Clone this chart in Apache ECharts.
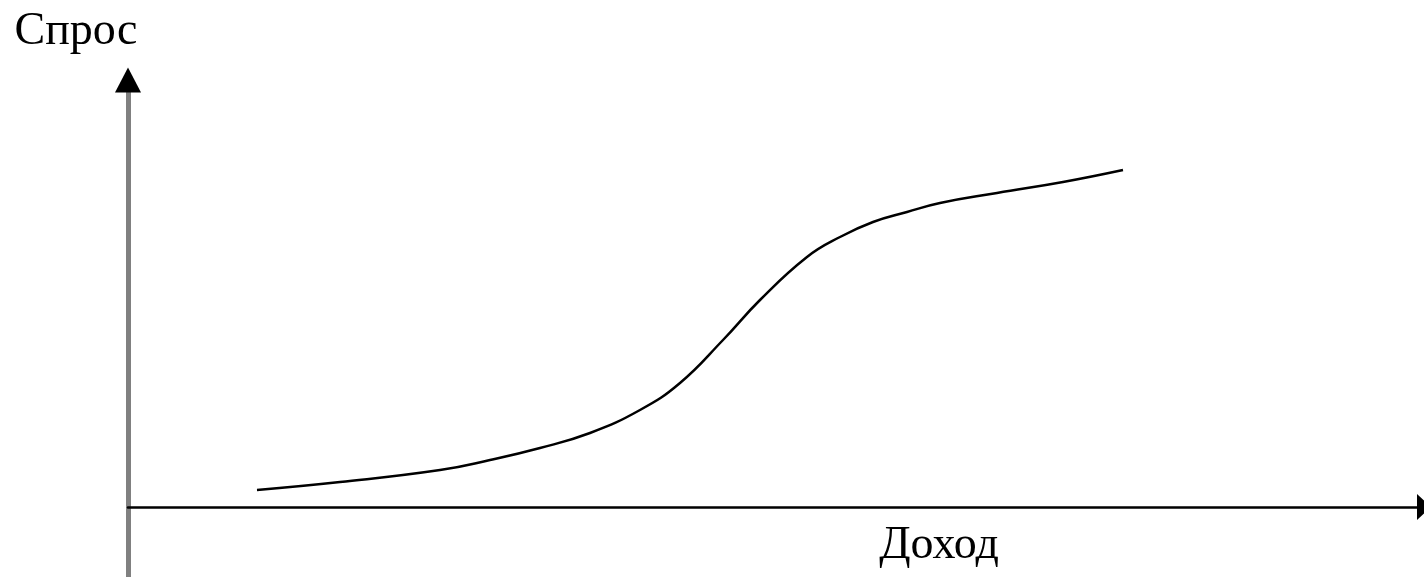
<!DOCTYPE html>
<html>
<head>
<meta charset="utf-8">
<script src="https://cdn.jsdelivr.net/npm/echarts@6/dist/echarts.min.js"></script>
<style>
html,body{margin:0;padding:0;background:#fff;}
#chart{width:1424px;height:577px;}
</style>
</head>
<body>
<div id="chart"></div>
<script>
// Income (x) and demand (y), arbitrary units
const income = [12.9, 21.2, 31.2, 36.2, 41.2, 46.2, 51.2, 55.2, 59.5, 63.2, 67.9, 71.2, 74.5, 77.9, 81.2, 86.9, 93.5, 99.5];
const demand = [3.4, 5.0, 7.4, 9.4, 11.8, 14.8, 19.4, 24.8, 33.4, 41.4, 50.0, 54.0, 57.0, 59.0, 60.8, 62.8, 65.0, 67.4];
const xName = 'Доход';
const yName = 'Спрос';

const points = income.map((x, i) => [x, demand[i]]);
const font = 'Liberation Serif';

const chart = echarts.init(document.getElementById('chart'));
chart.setOption({
  backgroundColor: '#fff',
  animation: false,
  grid: { left: 128, right: 0, top: 80, bottom: 0, containLabel: false, outerBoundsMode: 'none' },
  xAxis: {
    type: 'value', min: 0, max: 129.6,
    name: xName, nameLocation: 'middle', nameGap: -54,
    nameTextStyle: { fontFamily: font, fontSize: 46, color: '#000', padding: [0, 0, 0, 326] },
    axisLine: { show: true, onZero: true, symbol: ['none', 'triangle'], symbolSize: [26, 14],
      lineStyle: { color: '#000', width: 2.5 } },
    axisTick: { show: false }, axisLabel: { show: false }, splitLine: { show: false }
  },
  yAxis: [{
    type: 'value', min: -14, max: 85.4, position: 'left',
    name: yName, nameLocation: 'end', nameGap: 25,
    nameTextStyle: { fontFamily: font, fontSize: 46, color: '#000', align: 'center', padding: [0, 104, 0, 0] },
    axisLine: { show: true, onZero: false, lineStyle: { color: '#808080', width: 5 } },
    axisTick: { show: false }, axisLabel: { show: false }, splitLine: { show: false }
  }, {
    type: 'value', min: -14, max: 85.4, position: 'left', offset: 0,
    axisLine: { show: true, onZero: false, symbol: ['none', 'triangle'], symbolSize: [26, 25],
      lineStyle: { color: '#000', width: 0 } },
    axisTick: { show: false }, axisLabel: { show: false }, splitLine: { show: false }
  }],
  series: [{
    type: 'line', data: points, smooth: 0.45, showSymbol: false,
    lineStyle: { color: '#000', width: 2.5 }, z: 3
  }]
});
</script>
</body>
</html>
